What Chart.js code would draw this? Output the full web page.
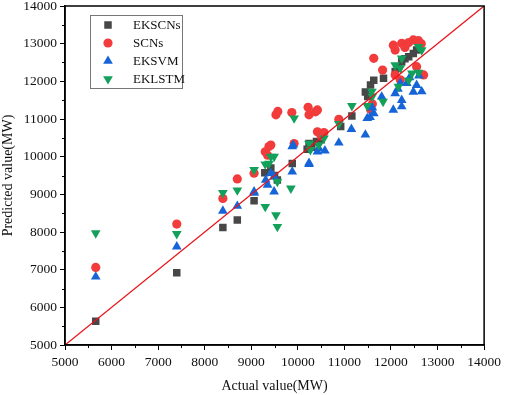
<!DOCTYPE html>
<html>
<head>
<meta charset="utf-8">
<script src="https://cdn.jsdelivr.net/npm/chart.js@4/dist/chart.umd.min.js"></script>
<style>
html,body{margin:0;padding:0;background:#fff;}
#wrap{width:505px;height:395px;position:relative;}
</style>
</head>
<body>
<div id="wrap"><canvas id="c" width="505" height="395"></canvas></div>
<script>
// ---- data ----
const seriesNames = ["EKSCNs", "SCNs", "EKSVM", "EKLSTM"];

const ekscnsActual = [5660,7400,8390,8700,9060,9290,9420,9500,9560,9880,10200,10240,10300,10400,10500,10920,11160,11450,11500,11560,11630,11840,12090,12150,12230,12300,12380,12480,12550,12600];
const ekscnsPred   = [5630,6920,8120,8320,8830,9570,9700,9500,9380,9820,10200,10350,10250,10400,10450,10800,11080,11720,11600,11900,12030,12080,12260,12350,12520,12600,12650,12740,12830,12900];

const scnsActual = [5660,7400,8390,8700,9060,9300,9350,9380,9420,9530,9570,9870,9920,10220,10240,10380,10420,10420,10500,10560,10880,11560,11600,11630,11820,12050,12090,12090,12200,12230,12300,12380,12480,12550,12590,12650,12700];
const scnsPred   = [7060,8210,8890,9410,9560,10130,10040,10270,10310,11110,11200,11170,10350,11310,11110,11190,11240,10660,10550,10640,10990,11250,11400,12610,12300,12960,12830,12170,12040,13010,12900,13030,13100,12390,13080,13000,12170];

const eksvmActual = [5660,7400,8390,8700,9060,9060,9310,9350,9420,9490,9490,9880,9880,9900,10240,10240,10420,10450,10580,10880,11150,11450,11490,11550,11600,11630,11800,12050,12090,12150,12200,12230,12230,12340,12400,12480,12550,12600,12660];
const eksvmPred   = [6810,7610,8560,8690,9040,9070,9380,9250,9560,9470,9070,9600,10270,10310,9800,9830,10130,10220,10160,10370,10730,10580,11020,11050,11300,11150,11590,11240,11680,11800,11950,11330,11500,11950,12100,11720,11900,12150,11730];

const eklstmActual = [5660,7400,8390,8700,9060,9300,9300,9380,9420,9490,9530,9560,9560,9850,9920,10240,10270,10450,10560,10880,11160,11490,11590,11600,11830,12090,12160,12200,12230,12380,12450,12590,12590,12660];
const eklstmPred   = [7970,7950,9040,9110,9650,8670,9800,9820,10000,10000,8450,8140,9340,9160,11020,10350,10180,10310,10490,10870,11350,11350,11730,11600,11460,12430,11860,12350,12610,12030,12210,12230,12920,12830];

const axisMin = 5000, axisMax = 14000, majorStep = 1000, minorStep = 500;
const idealLine = [axisMin, axisMax];

const xTitle = "Actual value(MW)";
const yTitle = "Predicted value(MW)";

// ---- build chart ----
const pts = (xs, ys) => xs.map((x, i) => ({x: x, y: ys[i]}));
const serif = "'Liberation Serif','Times New Roman',serif";

const styles = [
  {color: '#474747', pointStyle: 'rect', radius: 5.3, rotation: 0},
  {color: '#F23B3B', pointStyle: 'circle', radius: 4.6, rotation: 0},
  {color: '#1565D8', pointStyle: 'triangle', radius: 5.6, rotation: 0},
  {color: '#12A05A', pointStyle: 'triangle', radius: 5.6, rotation: 180}
];
const seriesData = [
  pts(ekscnsActual, ekscnsPred),
  pts(scnsActual, scnsPred),
  pts(eksvmActual, eksvmPred),
  pts(eklstmActual, eklstmPred)
];

const datasets = seriesNames.map((name, i) => ({
  type: 'scatter',
  label: name,
  data: seriesData[i],
  backgroundColor: styles[i].color,
  borderColor: styles[i].color,
  borderWidth: 0,
  pointStyle: styles[i].pointStyle,
  pointRadius: styles[i].radius,
  pointRotation: styles[i].rotation,
  pointHoverRadius: styles[i].radius,
  order: 4 - i
}));
datasets.push({
  type: 'line',
  label: 'y=x',
  data: pts(idealLine, idealLine),
  borderColor: '#E8141B',
  borderWidth: 1.3,
  pointRadius: 0,
  fill: false,
  order: -1
});

const framePlugin = {
  id: 'frame',
  afterDraw(chart) {
    const ctx = chart.ctx, a = chart.chartArea;
    const xs = chart.scales.x, ys = chart.scales.y;
    ctx.save();
    // minor ticks
    ctx.strokeStyle = '#000';
    ctx.lineWidth = 1;
    for (let v = axisMin + minorStep; v < axisMax; v += majorStep) {
      const px = Math.round(xs.getPixelForValue(v)) + 0.5;
      ctx.beginPath(); ctx.moveTo(px, a.bottom); ctx.lineTo(px, a.bottom + 3); ctx.stroke();
      const py = Math.round(ys.getPixelForValue(v)) + 0.5;
      ctx.beginPath(); ctx.moveTo(a.left, py); ctx.lineTo(a.left - 3, py); ctx.stroke();
    }
    // frame
    ctx.lineWidth = 1.5;
    ctx.strokeRect(a.left, a.top, a.right - a.left, a.bottom - a.top);
    // legend
    const bx = a.left + 25, by = a.top + 9, bw = 92, bh = 73;
    ctx.lineWidth = 1;
    ctx.strokeStyle = '#777';
    ctx.strokeRect(bx + 0.5, by + 0.5, bw, bh);
    ctx.font = '13px ' + serif;
    ctx.textBaseline = 'middle';
    ctx.textAlign = 'left';
    seriesNames.forEach((name, i) => {
      const cy = by + 10 + i * 18;
      const cx = bx + 18;
      ctx.fillStyle = styles[i].color;
      Chart.helpers.drawPoint(ctx, {
        pointStyle: styles[i].pointStyle,
        radius: styles[i].radius,
        rotation: styles[i].rotation,
        borderWidth: 0
      }, cx, cy);
      ctx.fillStyle = '#111';
      ctx.fillText(name, bx + 43, cy + 1);
    });
    ctx.restore();
  }
};

const plainLabel = v => String(v);

new Chart(document.getElementById('c'), {
  data: {datasets},
  options: {
    responsive: false,
    animation: false,
    layout: {padding: {top: 0, right: 19, left: 0, bottom: 0}},
    plugins: {legend: {display: false}, tooltip: {enabled: false}},
    scales: {
      x: {
        type: 'linear', min: axisMin, max: axisMax,
        ticks: {stepSize: majorStep, callback: plainLabel, color: '#111', font: {family: serif, size: 13.5}, padding: 4, maxRotation: 0, autoSkip: false},
        grid: {drawOnChartArea: false, drawTicks: true, tickLength: 5, color: '#000', lineWidth: 1},
        border: {display: true, color: '#000', width: 1.5},
        title: {display: true, text: xTitle, color: '#111', font: {family: serif, size: 14}, padding: {top: 3, bottom: 0}},
        afterFit: s => { s.height = 50; }
      },
      y: {
        type: 'linear', min: axisMin, max: axisMax,
        ticks: {stepSize: majorStep, callback: plainLabel, color: '#111', font: {family: serif, size: 13.5}, padding: 3, autoSkip: false},
        grid: {drawOnChartArea: false, drawTicks: true, tickLength: 5, color: '#000', lineWidth: 1},
        border: {display: true, color: '#000', width: 1.5},
        title: {display: true, text: yTitle, color: '#111', font: {family: serif, size: 14}, padding: {top: 0, bottom: 4}},
        afterFit: s => { s.width = 65; s.paddingTop = 6; s.paddingBottom = 0; }
      }
    }
  },
  plugins: [framePlugin]
});
</script>
</body>
</html>
